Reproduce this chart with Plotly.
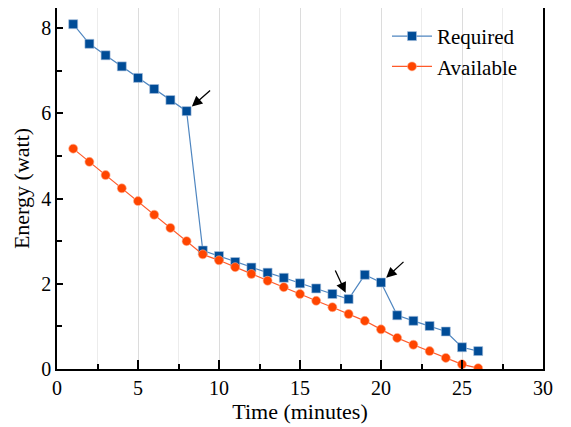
import plotly.graph_objects as go

time_min = list(range(1, 27))
required = [8.09, 7.63, 7.36, 7.10, 6.83, 6.57, 6.31, 6.05, 2.78, 2.65,
            2.51, 2.38, 2.26, 2.14, 2.01, 1.89, 1.76, 1.64, 2.21, 2.03,
            1.26, 1.13, 1.01, 0.88, 0.51, 0.42]
available = [5.17, 4.86, 4.55, 4.24, 3.94, 3.62, 3.31, 3.00, 2.69, 2.55,
             2.39, 2.23, 2.07, 1.92, 1.76, 1.60, 1.45, 1.29, 1.13, 0.93,
             0.73, 0.57, 0.42, 0.26, 0.11, 0.02]
arrow_x = [8, 18, 20]
arrow_dx = [25, -14, 24]
arrow_dy = [-22, -30, -22]

FONT = "Liberation Serif, Times New Roman, serif"

fig = go.Figure()
fig.add_trace(go.Scatter(
    x=time_min, y=required, name="Required", mode="lines+markers",
    line=dict(color="#4f86c0", width=1.2),
    marker=dict(symbol="square", size=9, color="#004c97",
                line=dict(color="#a9c1dd", width=0.6))))
fig.add_trace(go.Scatter(
    x=time_min, y=available, name="Available", mode="lines+markers",
    line=dict(color="#ff5a2a", width=1.2),
    marker=dict(symbol="circle", size=9, color="#ff4500",
                line=dict(color="#ffb090", width=0.6))))

for xv, dx, dy in zip(arrow_x, arrow_dx, arrow_dy):
    fig.add_annotation(x=xv, y=required[time_min.index(xv)], ax=dx, ay=dy,
                       xref="x", yref="y", showarrow=True, arrowhead=2,
                       arrowsize=1.6, arrowwidth=1.3, arrowcolor="black",
                       standoff=7, text="")

# page has an 8px body margin, so the figure is sized to fit the window
fig.update_layout(
    width=563, height=419,
    margin=dict(l=49, r=28, t=0, b=58, autoexpand=False),
    paper_bgcolor="white", plot_bgcolor="white",
    font=dict(family=FONT, size=21, color="black"),
    legend=dict(x=0.679, y=0.978, xanchor="left", yanchor="top",
                bgcolor="rgba(0,0,0,0)", font=dict(family=FONT, size=21),
                tracegroupgap=0, itemwidth=40),
    showlegend=True,
)
fig.update_xaxes(
    range=[0, 30], tickvals=[0, 5, 10, 15, 20, 25, 30],
    ticks="inside", ticklen=9, tickwidth=1.5, tickcolor="black",
    showline=True, linecolor="black", linewidth=1.5, mirror=True,
    showgrid=True, gridcolor="#dcdcdc", gridwidth=1,
    minor=dict(dtick=2.5, ticks="inside", ticklen=5, tickcolor="black",
               showgrid=True, gridcolor="#ececec", gridwidth=1),
    zeroline=False, automargin=False,
    title=dict(text="Time (minutes)", font=dict(family=FONT, size=22), standoff=2),
    tickfont=dict(family=FONT, size=20),
)
fig.update_yaxes(
    range=[0, 8.47], tickvals=[0, 2, 4, 6, 8],
    ticks="inside", ticklen=6, tickwidth=1.5, tickcolor="black",
    showline=True, linecolor="black", linewidth=1.5, mirror=True,
    showgrid=False,
    minor=dict(dtick=1, ticks="inside", ticklen=5, tickcolor="black", showgrid=False),
    zeroline=False, automargin=False,
    title=dict(text="Energy (watt)", font=dict(family=FONT, size=22), standoff=6),
    tickfont=dict(family=FONT, size=20),
)

fig.write_html("out.html")
